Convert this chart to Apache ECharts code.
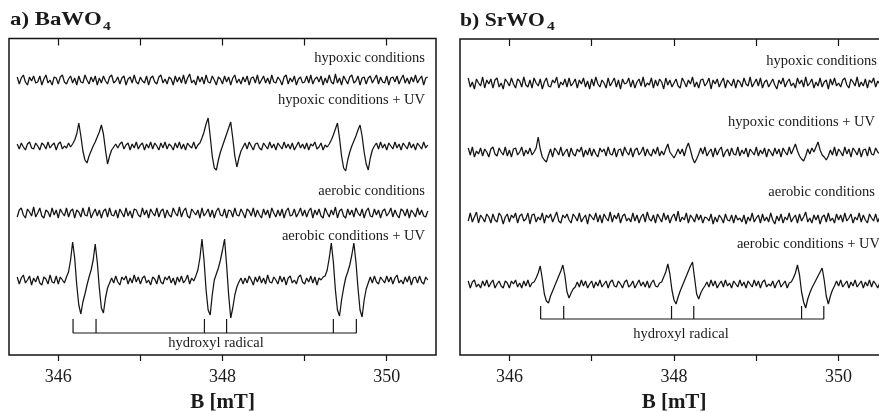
<!DOCTYPE html>
<html><head><meta charset="utf-8">
<script src="https://cdn.jsdelivr.net/npm/echarts@6/dist/echarts.min.js"></script>
<style>html,body{margin:0;padding:0;background:#fff;}#c{width:879px;height:412px;}</style>
</head><body><div id="c"></div>
<script>
// Magnetic field sampling of the spectra (mT)
const fieldStart = 345.5, fieldStep = 0.025;
const xTickValues = [346, 347, 348, 349, 350];
const xLabelValues = [346, 348, 350];

const panelTitles = ['a) BaWO', 'b) SrWO'];
const traceLabels = ['hypoxic conditions', 'hypoxic conditions + UV', 'aerobic conditions', 'aerobic conditions + UV'];
const bracketLabel = 'hydroxyl radical';
const axisName = 'B [mT]';

// baseline offsets of the stacked spectra (arbitrary units)
const offsetsA = [275, 209, 142, 75];
const offsetsB = [272, 203, 137, 71];

// hydroxyl radical line positions (mT) and bracket levels
const bracketFieldsA = [346.18, 346.46, 347.78, 348.05, 349.35, 349.63];
const bracketFieldsB = [346.38, 346.66, 347.97, 348.24, 349.55, 349.82];
const bracketLevelsA = [36, 22];
const bracketLevelsB = [49, 36];

// ---- a) BaWO4 spectra ----
const baHypoxic = [
3,-4,2,5,-2,-5,3,-1,4,-3,
-2,4,-5,1,5,-3,0,-5,3,2,
-4,3,5,-2,-4,1,4,-3,2,-5,
4,-2,-3,5,0,-4,3,-2,4,-5,
2,-3,4,-1,-4,3,5,-3,-1,3,
-4,2,4,-5,1,3,-3,5,-2,-4,
3,-1,-3,4,-5,2,4,-2,-4,3,
5,-3,1,-4,3,1,-5,4,-2,3,
-3,5,-4,2,6,-3,0,-5,4,-2,
3,-4,5,-2,-3,4,0,-5,3,1,
-4,4,-2,3,-5,2,5,-3,1,-4,
3,-2,4,-5,2,3,-3,5,-4,0,
4,-3,2,-4,5,-2,-3,3,0,-5,
3,5,-4,2,-2,4,-5,1,3,-3,
-2,4,-3,5,-4,1,3,-2,4,-5,
2,-3,5,-2,-4,6,-3,2,-5,4,
0,-4,3,5,-3,-1,4,-5,2,3,
-4,2,4,-3,1,5,-4,3,-2,-3,
4,-5,2,3,-2,4,-4,1,5,-3,
2,-4,3,-2,5,-3,1,4,-5,2,
3];
const baHypoxicUV = [
2,-3,3,-1,-4,2,4,-2,-3,3,
0,-4,3,1,-3,4,-2,1,3,-4,
2,4,-3,0,-2,3,-1,2,6,12,
23,10,-5,-14,-17,-10,-5,0,4,9,
14,21,12,-4,-18,-10,-4,-1,2,-2,
2,4,-3,1,3,-4,2,-2,4,-3,
1,3,-4,2,-2,4,-3,3,0,-4,
3,-2,4,-3,2,0,-4,3,-2,4,
-3,2,-4,3,0,-2,4,-3,1,3,
8,14,22,28,10,-10,-22,-24,-14,-6,
0,6,12,18,24,8,-10,-21,-12,-5,
-1,3,-3,4,0,-4,2,3,-2,-4,
3,0,-3,4,-2,2,-4,3,0,-3,
4,-2,2,-3,3,-4,0,4,-2,2,
-3,3,-4,2,0,4,-3,-1,3,-4,
1,-1,2,6,11,17,23,8,-10,-22,
-25,-14,-6,0,5,10,16,21,10,-6,
-18,-24,-12,-4,0,3,-3,4,-2,2,
-4,3,0,-3,4,-2,2,-4,3,0,
-3,4,-2,2,-4,3,0,-3,4,-2,
1];
const baAerobic = [
-4,3,5,-2,-5,4,1,-3,6,-4,
0,5,-3,-5,3,1,-4,5,-2,3,
-5,4,0,-3,5,-4,2,4,-5,3,
1,-4,5,-2,-3,6,-5,0,4,-3,
3,-5,2,4,-4,5,-2,-3,3,-5,
4,0,-4,5,-3,2,-5,4,3,-2,
-4,5,-2,3,-5,4,0,-3,5,-4,
2,4,-5,3,-2,-4,5,0,-3,6,
-4,2,5,-3,-5,4,1,-2,3,-5,
5,-3,0,4,-4,3,-5,2,5,-2,
-3,4,-5,3,2,-4,5,-2,-3,4,
0,-5,4,2,-3,5,-4,3,-2,-5,
4,-2,3,-5,5,0,-4,3,-3,4,
-5,2,5,-3,-2,4,-4,0,5,-3,
3,-4,2,5,-5,3,-2,4,-3,-5,
5,0,-4,3,-2,6,-5,2,4,-3,
-5,4,-2,3,-4,5,0,-3,4,-5,
2,5,-3,-4,4,-2,3,-5,2,4,
-3,0,5,-4,3,-2,-5,4,2,-3,
4,-5,3,0,-4,5,-2,3,-3,-4,
2];
const baAerobicUV = [
3,-4,2,5,-3,0,4,-5,2,-2,
4,-3,-5,3,1,-4,5,-2,-3,4,
-4,3,0,-3,3,8,20,38,22,-5,
-25,-34,-22,-14,-5,3,10,20,36,18,
-8,-28,-33,-18,-8,-3,2,-3,4,-2,
-5,3,0,4,-4,2,-3,5,-2,3,
-4,2,4,-3,0,-5,3,1,-4,5,
-2,-4,3,0,4,-3,2,-5,3,-2,
4,-3,0,5,-4,2,-1,4,10,22,
41,20,-10,-30,-35,-15,0,6,12,20,
30,41,15,-15,-38,-28,-15,-7,-2,2,
-4,2,-3,4,0,-5,3,-2,4,-3,
2,-4,5,-2,-3,3,0,-4,4,-2,
3,-5,2,4,-3,0,-4,3,5,-2,
-4,2,-2,4,-3,3,-5,2,0,3,
4,10,22,37,18,-10,-30,-36,-20,-8,
2,8,15,25,37,18,-8,-30,-37,-20,
-9,-3,3,-3,4,-2,-4,3,0,-3,
4,-2,3,-4,2,5,-3,0,-4,3,
-2,4,-5,2,3,-3,4,-2,-4,3,
0];

// ---- b) SrWO4 spectra ----
const srHypoxic = [
5,-4,1,-6,4,0,-3,6,-5,3,
-1,4,-5,3,5,-4,0,-6,4,1,
-3,5,-1,-5,4,2,-4,6,-2,-4,
3,-5,5,0,-3,4,-6,1,5,-3,
-4,3,0,6,-5,1,-2,4,-4,5,
-3,0,4,-5,3,-1,5,-4,2,-6,
4,-3,6,-1,-4,3,0,-5,5,-3,
1,5,-4,3,-6,4,-1,0,5,-4,
3,-5,1,4,-3,6,-4,0,-2,5,
-5,3,-3,4,1,-6,5,-2,3,-4,
0,4,-3,-5,5,1,-4,3,-1,6,
-4,1,-5,3,4,-3,0,5,-6,3,
-1,4,-4,1,5,-5,3,0,-3,4,
-5,3,1,-4,5,-1,-3,6,-4,0,
4,-3,5,-5,1,3,-4,0,4,-2,
-6,3,-1,5,-4,1,4,-3,0,-5,
5,-1,3,-4,6,-3,0,4,-5,1,
-3,5,-4,1,3,-6,4,-2,5,-3,
0,-4,3,5,-2,-5,4,1,-3,6,
-4,1,-3,4,-5,3,0,5,-4,2,
-1];
const srHypoxicUV = [
4,-3,5,-5,1,-2,4,-4,3,0,
-5,3,5,-2,-4,4,0,-3,5,-4,
2,-5,3,4,-3,0,5,-4,2,-2,
4,-3,0,4,15,3,-5,-8,-10,-3,
3,-5,4,1,-3,5,-4,0,3,-5,
4,-2,-4,3,0,5,-5,2,-3,4,
-4,3,-2,-5,4,0,3,-4,5,-2,
-3,4,-5,2,3,-4,5,0,-3,4,
-5,2,4,-3,0,5,-4,3,-2,-4,
3,-2,5,-4,1,-3,3,8,0,-3,
-6,-2,3,-2,3,-4,4,9,2,-6,
-11,-7,-2,4,-2,5,-4,0,3,-5,
4,-3,2,5,-5,0,3,-4,4,-2,
-3,5,-4,2,-2,4,-5,3,0,-3,
5,-4,2,-2,4,-5,3,0,-4,4,
-2,3,-5,4,0,-3,5,-2,3,8,
1,-4,-7,-9,-4,3,-2,4,0,5,
10,2,-3,-5,-8,-4,2,-3,5,-4,
3,0,-4,5,-2,3,-5,4,1,-3,
4,-5,2,3,-4,5,-2,-3,4,0,
-2];
const srAerobic = [
-3,5,-4,1,6,-5,3,0,-4,4,
1,-5,4,-2,-4,5,2,-6,1,4,
-4,3,0,5,-5,2,4,-3,-1,5,
-6,3,4,-4,1,-2,5,-5,3,0,
4,-4,1,6,-3,-5,3,0,4,-2,
-5,4,1,-3,5,-4,0,3,-6,4,
1,-2,5,-4,3,-5,4,0,-3,6,
-4,3,-1,5,-5,2,4,-3,0,-4,
5,-3,3,-5,1,4,-4,6,-1,-3,
3,-5,4,0,-4,5,-2,3,-5,1,
4,-3,7,-4,1,-2,5,-5,3,0,
-4,4,-2,3,-5,1,0,-3,4,-6,
1,-4,3,0,-5,4,-2,-3,3,-5,
3,-2,0,-4,3,-6,1,-3,5,-4,
0,3,-5,4,-3,1,-4,5,-2,-6,
2,-3,4,-5,1,-2,5,-4,0,3,
-5,4,-3,1,6,-4,0,-5,3,-2,
3,-6,1,3,-4,5,-3,0,-5,4,
-2,3,-4,5,-3,0,4,-5,1,-2,
5,-4,3,-2,-5,4,0,-3,4,-4,
1];
const srAerobicUV = [
3,-4,2,4,-3,0,-4,3,-2,4,
-3,1,4,-4,0,3,-2,-4,3,1,
-4,3,0,4,-3,1,-4,3,-2,4,
-3,1,2,6,11,18,5,-10,-17,-19,
-12,-7,-2,3,8,13,19,8,-8,-14,
-9,-5,-3,2,-3,4,-2,3,-4,0,
3,-4,2,-2,4,-3,0,3,-4,2,
4,-2,-3,3,0,-4,2,4,-3,-1,
3,-4,0,4,-2,2,-3,3,-4,1,
4,-2,-3,1,2,7,12,20,10,-6,
-16,-20,-13,-7,-2,3,8,13,18,22,
6,-10,-15,-9,-5,-2,2,-3,4,-2,
3,-4,0,3,-3,4,-2,1,-4,3,
0,-3,4,-2,2,-4,3,0,-3,4,
-2,3,-4,2,4,-3,0,-2,3,-4,
1,4,-3,0,3,-4,1,2,6,11,
19,9,-8,-18,-24,-15,-9,-4,0,4,
8,12,16,4,-12,-20,-12,-6,-2,3,
-2,4,-3,0,3,-4,2,-2,4,-3,
0,3,-4,2,-2,4,-3,3,0,-4,
1];

const tracesA = [baHypoxic, baHypoxicUV, baAerobic, baAerobicUV];
const tracesB = [srHypoxic, srHypoxicUV, srAerobic, srAerobicUV];

const FONT = '"Liberation Serif", "Times New Roman", serif';
const INK = '#151515';

function traceSeries(values, offset, gi) {
  return {
    type: 'line', xAxisIndex: gi * 2, yAxisIndex: gi,
    data: values.map((v, i) => [fieldStart + i * fieldStep, offset + v]),
    showSymbol: false, symbol: 'none', silent: true, animation: false,
    lineStyle: { color: INK, width: 1.25 }
  };
}
function bracketSeries(fields, levels, gi) {
  const top = levels[0], bot = levels[1];
  const pts = [[fields[0], top], [fields[0], bot]];
  for (let k = 1; k < fields.length; k++) {
    pts.push([fields[k], bot], [fields[k], top], [fields[k], bot]);
  }
  return {
    type: 'line', xAxisIndex: gi * 2, yAxisIndex: gi, data: pts,
    showSymbol: false, symbol: 'none', silent: true, animation: false,
    lineStyle: { color: INK, width: 1.2 }
  };
}

const grids = [
  { left: 9, top: 38.5, width: 427, height: 316.5 },
  { left: 460, top: 39, right: -9, height: 316 }
];
const xAxes = [], yAxes = [];
grids.forEach((g, gi) => {
  xAxes.push({
    type: 'value', gridIndex: gi, position: 'bottom', min: 345.4, max: 350.6,
    axisLine: { show: false }, splitLine: { show: false },
    axisTick: { show: true, inside: false, length: 6, customValues: xTickValues, lineStyle: { color: INK, width: 1.2 } },
    axisLabel: { show: true, customValues: xLabelValues, margin: 13, fontFamily: FONT, fontSize: 18, color: '#1a1a1a' },
    name: axisName, nameLocation: 'middle', nameGap: 37,
    nameTextStyle: { fontFamily: FONT, fontSize: 21, fontWeight: 'bold', color: '#1a1a1a' }
  });
  xAxes.push({
    type: 'value', gridIndex: gi, position: 'top', min: 345.4, max: 350.6,
    axisLine: { show: false }, splitLine: { show: false },
    axisTick: { show: true, inside: true, length: 7, customValues: xTickValues, lineStyle: { color: INK, width: 1.2 } },
    axisLabel: { show: false }
  });
  yAxes.push({ type: 'value', gridIndex: gi, min: 0, max: g.height, show: false });
});

const series = [];
tracesA.forEach((t, k) => series.push(traceSeries(t, offsetsA[k], 0)));
tracesB.forEach((t, k) => series.push(traceSeries(t, offsetsB[k], 1)));
series.push(bracketSeries(bracketFieldsA, bracketLevelsA, 0));
series.push(bracketSeries(bracketFieldsB, bracketLevelsB, 1));

function txt(text, x, y, size, align, opts) {
  return Object.assign({
    type: 'text', x: x, y: y, silent: true,
    style: { text: text, font: (opts && opts.bold ? 'bold ' : '') + size + 'px ' + FONT, fill: '#1a1a1a',
             textAlign: align, textVerticalAlign: 'middle' }
  }, opts && opts.extra ? opts.extra : {});
}

const labelPosA = [[425, 58], [425, 100], [425, 191], [425, 236]];
const labelPosB = [[877, 61], [875, 122], [875, 192], [880, 244]];
const graphics = [];
traceLabels.forEach((l, k) => {
  graphics.push(txt(l, labelPosA[k][0], labelPosA[k][1], 14.5, 'right'));
  graphics.push(txt(l, labelPosB[k][0], labelPosB[k][1], 14.5, 'right'));
});
graphics.push(txt(bracketLabel, 216, 343, 14.5, 'center'));
graphics.push(txt(bracketLabel, 681, 334, 14.5, 'center'));
graphics.push(txt(panelTitles[0], 10, 20, 19, 'left', { bold: true, extra: { scaleX: 1.2 } }));
graphics.push(txt('4', 103, 27, 13, 'left', { bold: true, extra: { scaleX: 1.2 } }));
graphics.push(txt(panelTitles[1], 460, 21, 19, 'left', { bold: true, extra: { scaleX: 1.14 } }));
graphics.push(txt('4', 547, 27, 13, 'left', { bold: true, extra: { scaleX: 1.2 } }));

const chart = echarts.init(document.getElementById('c'), null, { renderer: 'canvas' });
chart.setOption({
  backgroundColor: '#fff',
  animation: false,
  grid: grids.map(g => Object.assign({ show: true, borderColor: INK, borderWidth: 1.5, backgroundColor: 'transparent',
                                       containLabel: false, outerBoundsMode: 'none' }, g)),
  xAxis: xAxes,
  yAxis: yAxes,
  series: series,
  graphic: graphics
});
</script>
</body></html>
